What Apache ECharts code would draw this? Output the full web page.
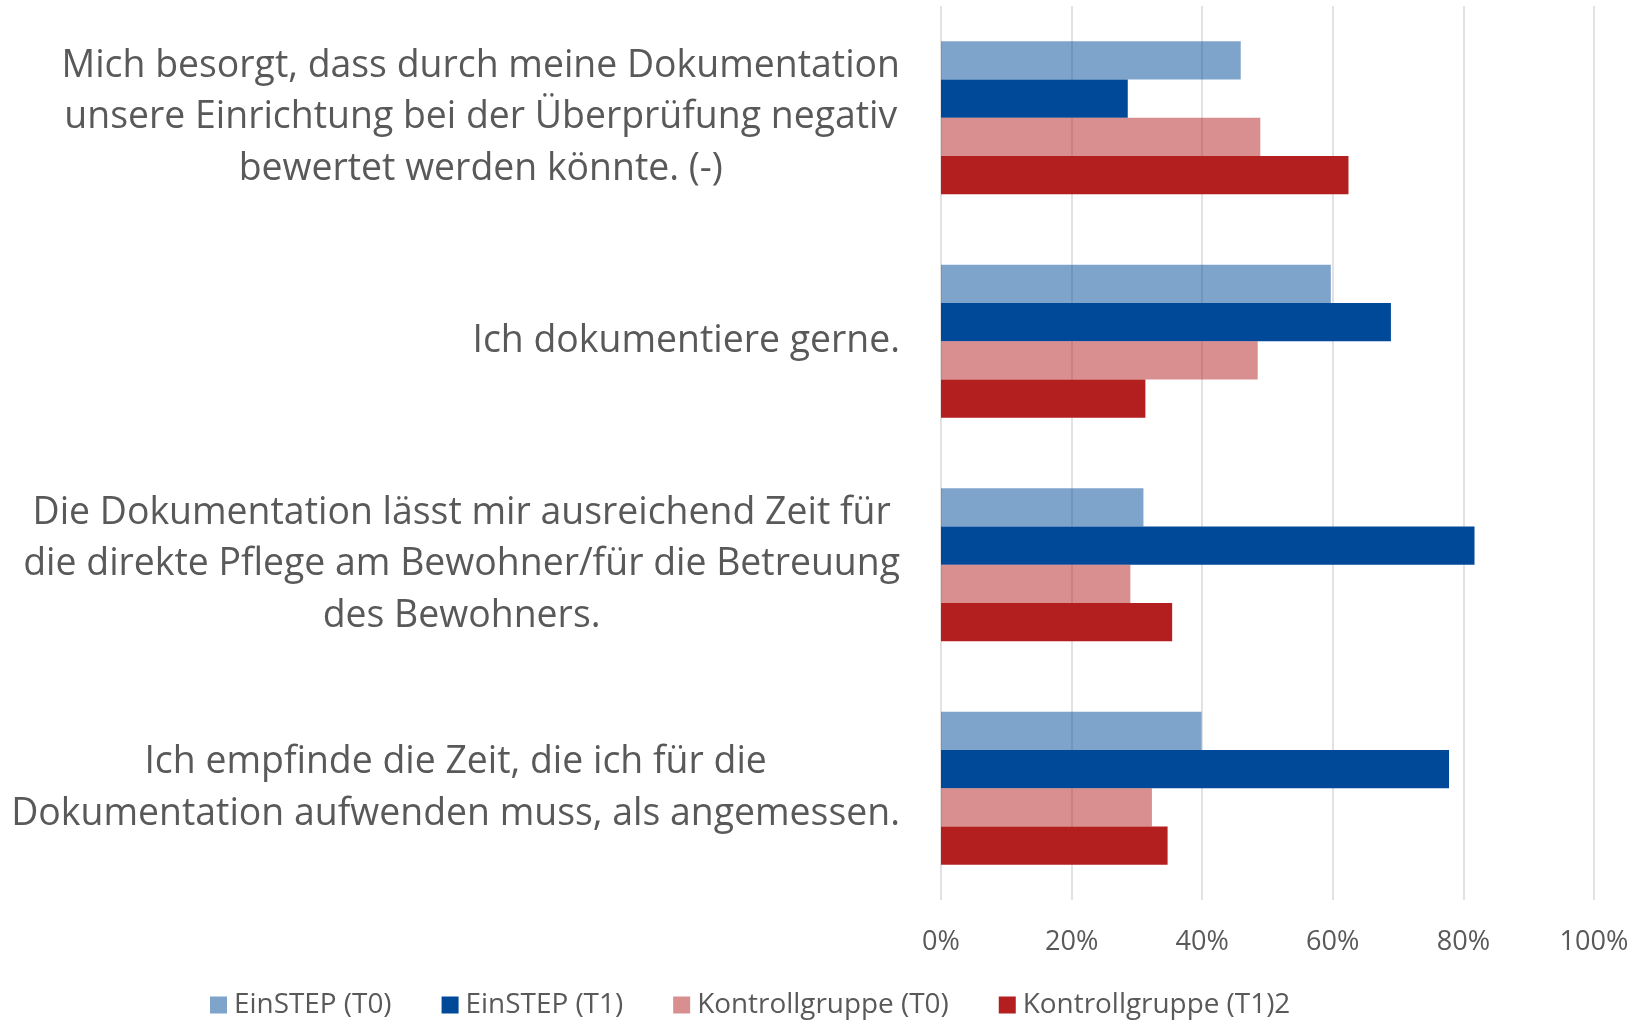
<!DOCTYPE html>
<html>
<head>
<meta charset="utf-8">
<script src="https://cdn.jsdelivr.net/npm/echarts@6/dist/echarts.min.js"></script>
<style>
  html, body { margin: 0; padding: 0; background: #ffffff; }
  #chart { width: 1644px; height: 1020px; }
</style>
</head>
<body>
<div id="chart"></div>
<script>
// ---- Data ----
const categories = [
  ["Mich besorgt, dass durch meine Dokumentation", "unsere Einrichtung bei der Überprüfung negativ", "bewertet werden könnte. (-)"],
  ["Ich dokumentiere gerne."],
  ["Die Dokumentation lässt mir ausreichend Zeit für", "die direkte Pflege am Bewohner/für die Betreuung", "des Bewohners."],
  ["Ich empfinde die Zeit, die ich für die", "Dokumentation aufwenden muss, als angemessen."]
];
const seriesNames = ["EinSTEP (T0)", "EinSTEP (T1)", "Kontrollgruppe (T0)", "Kontrollgruppe (T1)2"];
const einstepT0 = [0.459, 0.597, 0.310, 0.399];
const einstepT1 = [0.286, 0.689, 0.817, 0.778];
const kontrollT0 = [0.489, 0.485, 0.290, 0.323];
const kontrollT1 = [0.624, 0.313, 0.354, 0.347];
const tickValues = [0, 0.2, 0.4, 0.6, 0.8, 1.0];

// ---- Styling helpers ----
const FONT = "'Open Sans'";
const measureCtx = document.createElement('canvas').getContext('2d');
function fitSize(text, target) {
  measureCtx.font = "100px " + FONT;
  return Math.round(100 * target / measureCtx.measureText(text).width * 10) / 10;
}
const catFont = fitSize("die direkte Pflege am Bewohner/für die Betreuung", 877);
const tickFont = fitSize("100%", 69);
const legendFont = fitSize("Kontrollgruppe (T1)2", 268);

const TEXT = '#595959';
const colors = ['rgba(0,73,153,0.5)', '#004999', 'rgba(179,31,31,0.5)', '#b31f1f'];
const values = [einstepT0, einstepT1, kontrollT0, kontrollT1];

const chart = echarts.init(document.getElementById('chart'), null, { renderer: 'canvas' });
chart.setOption({
  backgroundColor: '#ffffff',
  animation: false,
  color: colors,
  grid: { left: 941, right: 50, top: 6, bottom: 120, containLabel: false },
  legend: {
    data: seriesNames,
    left: 205,
    top: 982,
    itemWidth: 17,
    itemHeight: 17,
    itemGap: 50,
    icon: 'rect',
    textStyle: { fontFamily: FONT, fontSize: legendFont, color: TEXT, lineHeight: 36, padding: [0, 0, 0, 2] }
  },
  xAxis: {
    type: 'value',
    min: tickValues[0],
    max: tickValues[tickValues.length - 1],
    interval: 0.2,
    axisLine: { show: false },
    axisTick: { show: false },
    splitLine: { show: true, lineStyle: { color: '#d9d9d9', width: 1.5 } },
    axisLabel: {
      margin: 25,
      fontFamily: FONT,
      fontSize: tickFont,
      lineHeight: 34,
      color: TEXT,
      formatter: v => Math.round(v * 100) + '%'
    }
  },
  yAxis: {
    type: 'category',
    inverse: true,
    data: categories.map((c, i) => String(i)),
    axisLine: { show: false },
    axisTick: { show: false },
    splitLine: { show: false },
    axisLabel: {
      margin: 41,
      interval: 0,
      formatter: v => categories[+v].map(l => '{c|' + l + '}').join('\n'),
      rich: {
        c: { align: 'center', fontFamily: FONT, fontSize: catFont, lineHeight: 51.5, color: TEXT }
      }
    }
  },
  series: seriesNames.map((name, i) => ({
    name: name,
    type: 'bar',
    data: values[i],
    barGap: '0%',
    barCategoryGap: '31.5%',
    itemStyle: { color: colors[i] }
  }))
});
</script>
</body>
</html>
